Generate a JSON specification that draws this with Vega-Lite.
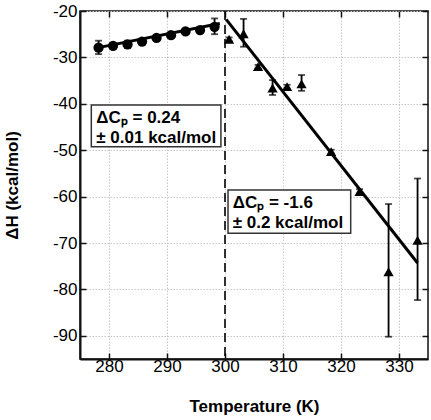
{
  "$schema": "https://vega.github.io/schema/vega-lite/v6.json",
  "width": 348,
  "height": 348,
  "autosize": {"type": "none"},
  "padding": {"left": 80, "top": 11, "right": 3, "bottom": 61},
  "background": "white",
  "config": {
    "font": "Liberation Sans",
    "view": {"stroke": "#111", "strokeWidth": 1.5}
  },
  "datasets": {
    "pts": [
      {"T": 278.2, "H": -27.9, "lo": -29.3, "hi": -26.4, "kind": "circle"},
      {"T": 280.7, "H": -27.5, "lo": -28.0, "hi": -27.0, "kind": "circle"},
      {"T": 283.2, "H": -27.2, "lo": -28.0, "hi": -26.4, "kind": "circle"},
      {"T": 285.7, "H": -26.6, "lo": -27.1, "hi": -26.1, "kind": "circle"},
      {"T": 288.2, "H": -25.8, "lo": -26.2, "hi": -25.4, "kind": "circle"},
      {"T": 290.7, "H": -25.2, "lo": -25.6, "hi": -24.8, "kind": "circle"},
      {"T": 293.2, "H": -24.4, "lo": -24.8, "hi": -24.0, "kind": "circle"},
      {"T": 295.7, "H": -24.1, "lo": -24.5, "hi": -23.7, "kind": "circle"},
      {"T": 298.2, "H": -23.4, "lo": -25.0, "hi": -21.6, "kind": "circle"},
      {"T": 300.7, "H": -26.1, "lo": -26.5, "hi": -25.7, "kind": "triangle"},
      {"T": 303.2, "H": -24.9, "lo": -27.7, "hi": -21.7, "kind": "triangle"},
      {"T": 305.7, "H": -32.0, "lo": -32.4, "hi": -31.6, "kind": "triangle"},
      {"T": 308.2, "H": -36.6, "lo": -38.1, "hi": -34.9, "kind": "triangle"},
      {"T": 310.7, "H": -36.3, "lo": -36.7, "hi": -35.9, "kind": "triangle"},
      {"T": 313.2, "H": -35.7, "lo": -37.2, "hi": -33.8, "kind": "triangle"},
      {"T": 318.3, "H": -50.3, "lo": -50.7, "hi": -49.9, "kind": "triangle"},
      {"T": 323.2, "H": -58.9, "lo": -59.4, "hi": -58.4, "kind": "triangle"},
      {"T": 328.2, "H": -76.2, "lo": -90.2, "hi": -61.6, "kind": "triangle"},
      {"T": 333.2, "H": -69.4, "lo": -82.3, "hi": -56.1, "kind": "triangle"}
    ],
    "fits": [
      {"seg": "low", "T": 277.5, "H": -28.05},
      {"seg": "low", "T": 299.1, "H": -22.7},
      {"seg": "high", "T": 300.2, "H": -21.8},
      {"seg": "high", "T": 333.2, "H": -74.3}
    ],
    "boxes": [
      {"x1": 276.95, "x2": 299.3, "y1": -40.26, "y2": -49.25},
      {"x1": 300.52, "x2": 321.67, "y1": -58.58, "y2": -67.91}
    ],
    "labels": [
      {"T": 277.81, "H": -44.07, "text": "ΔCₚ = 0.24"},
      {"T": 277.81, "H": -48.45, "text": "± 0.01 kcal/mol"},
      {"T": 301.33, "H": -62.39, "text": "ΔCₚ = -1.6"},
      {"T": 301.33, "H": -66.83, "text": "± 0.2 kcal/mol"}
    ],
    "vline": [{"T": 300}]
  },
  "resolve": {"axis": {"x": "independent", "y": "independent"}},
  "layer": [
    {
      "data": {"name": "fits"},
      "mark": {"type": "line", "color": "black", "strokeWidth": 3},
      "encoding": {
        "x": {
          "field": "T", "type": "quantitative",
          "scale": {"domain": [275, 335], "nice": false, "zero": false},
          "axis": {
            "orient": "bottom", "values": [280, 290, 300, 310, 320, 330],
            "title": "Temperature (K)", "titleFontSize": 17, "titleFontWeight": "bold",
            "titleColor": "black", "titlePadding": 24,
            "labelFontSize": 17, "labelColor": "black", "labelPadding": 5,
            "tickSize": -6, "tickColor": "#111", "tickWidth": 1.5,
            "domainColor": "#111", "domainWidth": 2,
            "grid": true, "gridColor": "#c8c8c8", "gridDash": [1.5, 1.5], "gridWidth": 1
          }
        },
        "y": {
          "field": "H", "type": "quantitative",
          "scale": {"domain": [-95, -20], "nice": false, "zero": false},
          "axis": {
            "orient": "left", "values": [-90, -80, -70, -60, -50, -40, -30, -20],
            "labelExpr": "replace(datum.label, '−', '-')",
            "title": "ΔH (kcal/mol)", "titleFontSize": 17, "titleFontWeight": "bold",
            "titleColor": "black", "titleX": -68, "titleY": 174, "titleBaseline": "middle", "titleAlign": "center",
            "labelFontSize": 17, "labelColor": "black", "labelPadding": 9,
            "tickSize": -6, "tickColor": "#111", "tickWidth": 1.5,
            "domainColor": "#111", "domainWidth": 2,
            "grid": true, "gridColor": "#c8c8c8", "gridDash": [1.5, 1.5], "gridWidth": 1
          }
        },
        "detail": {"field": "seg"}
      }
    },
    {
      "data": {"name": "vline"},
      "mark": {"type": "rule", "color": "black", "strokeWidth": 1.6, "strokeDash": [9, 5]},
      "encoding": {
        "x": {"field": "T", "type": "quantitative",
          "scale": {"domain": [275, 335], "nice": false, "zero": false}, "axis": null}
      }
    },
    {
      "data": {"name": "pts"},
      "mark": {"type": "errorbar", "color": "black", "thickness": 1.8, "ticks": {"size": 7, "thickness": 1.8}},
      "encoding": {
        "x": {"field": "T", "type": "quantitative",
          "scale": {"domain": [275, 335], "nice": false, "zero": false}, "axis": null},
        "y": {"field": "lo", "type": "quantitative",
          "scale": {"domain": [-95, -20], "nice": false, "zero": false}, "axis": null},
        "y2": {"field": "hi"}
      }
    },
    {
      "data": {"name": "pts"},
      "mark": {"type": "point", "filled": true, "color": "black", "opacity": 1, "size": 105},
      "encoding": {
        "x": {"field": "T", "type": "quantitative",
          "scale": {"domain": [275, 335], "nice": false, "zero": false},
          "axis": {"orient": "top", "labels": false, "title": null, "grid": false,
            "values": [280, 290, 300, 310, 320, 330], "tickSize": -6, "tickColor": "#111", "tickWidth": 1.5,
            "domain": false}},
        "y": {"field": "H", "type": "quantitative",
          "scale": {"domain": [-95, -20], "nice": false, "zero": false},
          "axis": {"orient": "right", "labels": false, "title": null, "grid": false,
            "values": [-90, -80, -70, -60, -50, -40, -30, -20], "tickSize": -6, "tickColor": "#111", "tickWidth": 1.5,
            "domain": false}},
        "shape": {"field": "kind", "type": "nominal",
          "scale": {"domain": ["circle", "triangle"], "range": ["circle", "triangle-up"]}, "legend": null}
      }
    },
    {
      "data": {"name": "boxes"},
      "mark": {"type": "rect", "fill": "white", "stroke": "#333", "strokeWidth": 1.5},
      "encoding": {
        "x": {"field": "x1", "type": "quantitative",
          "scale": {"domain": [275, 335], "nice": false, "zero": false}, "axis": null},
        "x2": {"field": "x2"},
        "y": {"field": "y1", "type": "quantitative",
          "scale": {"domain": [-95, -20], "nice": false, "zero": false}, "axis": null},
        "y2": {"field": "y2"}
      }
    },
    {
      "data": {"name": "labels"},
      "mark": {"type": "text", "align": "left", "baseline": "alphabetic", "fontSize": 17, "fontWeight": "bold", "color": "black"},
      "encoding": {
        "x": {"field": "T", "type": "quantitative",
          "scale": {"domain": [275, 335], "nice": false, "zero": false}, "axis": null},
        "y": {"field": "H", "type": "quantitative",
          "scale": {"domain": [-95, -20], "nice": false, "zero": false}, "axis": null},
        "text": {"field": "text"}
      }
    }
  ]
}
